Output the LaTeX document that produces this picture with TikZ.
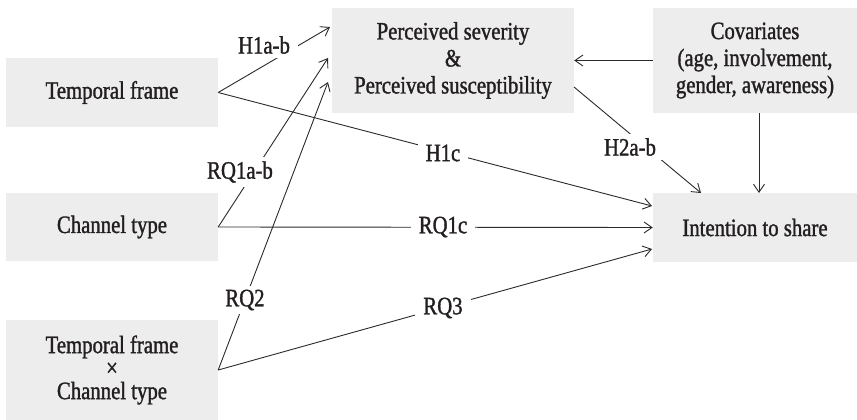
\documentclass[tikz,border=0pt]{standalone}
\usepackage{fontspec}
\setmainfont{Liberation Serif}[FakeStretch=0.83,FakeBold=1.3]
\usetikzlibrary{arrows.meta}
\definecolor{boxgray}{HTML}{EDEDED}
\definecolor{ink}{HTML}{231F20}
\definecolor{wire}{HTML}{2A2A2A}
\tikzset{
  box/.style={fill=boxgray, inner sep=0pt, align=center, text=ink,
    font=\fontsize{25}{27}\selectfont},
  lbl/.style={fill=white, inner xsep=8pt, inner ysep=4pt, text=ink,
    font=\fontsize{25}{27}\selectfont},
  conn/.style={draw=wire, line width=0.9pt,
    -{Straight Barb[length=8pt,width=11pt,line width=0.9pt]}},
}
\begin{document}
\begin{tikzpicture}[x=1pt,y=-1pt]
\useasboundingbox (0,0) rectangle (857,420);
% boxes
\node[box, minimum width=212pt, minimum height=69pt] (tf) at (112,92.5) {Temporal frame};
\node[box, minimum width=212pt, minimum height=68pt] (ct) at (112,227) {Channel type};
\node[box, minimum width=212pt, minimum height=100pt, font=\fontsize{25}{23}\selectfont] (tc) at (112,370) {Temporal frame\\×\\Channel type};
\node[box, minimum width=242pt, minimum height=105pt] (ps) at (453,60.5) {Perceived severity\\\&\\Perceived susceptibility};
\node[box, minimum width=204pt, minimum height=105pt] (cv) at (755,60.5) {Covariates\\(age, involvement,\\gender, awareness)};
\node[box, minimum width=204pt, minimum height=69pt] (it) at (755,227.5) {Intention to share};
% endpoints
\coordinate (ps1) at (330,27);
\coordinate (ps2) at (328,58);
\coordinate (ps3) at (328,82);
\coordinate (psout) at (574,87);
\coordinate (it1) at (652,206);
\coordinate (it3) at (652,249);
\coordinate (ittop) at (701,193);
\coordinate (cvbot) at (759,113);
\coordinate (ittop2) at (759,193);
% connectors
\draw[conn] (tf.east) -- (ps1);
\draw[conn] (ct.east) -- (ps2);
\draw[conn] (tc.east) -- (ps3);
\draw[conn] (tf.east) -- (it1);
\draw[conn] (ct.east) -- (it.west);
\draw[conn] (tc.east) -- (it3);
\draw[conn] (psout) -- (ittop);
\draw[conn] (cv.west) -- (ps.east);
\draw[conn] (cvbot) -- (ittop2);
% labels
\node[lbl] (l1) at (264,45) {H1a-b};
\node[lbl] (l2) at (240,172) {RQ1a-b};
\node[lbl] (l3) at (245,300) {RQ2};
\node[lbl] (l4) at (443,153) {H1c};
\node[lbl] (l5) at (443,227) {RQ1c};
\node[lbl] (l6) at (443,308) {RQ3};
\node[lbl] (l7) at (630,147) {H2a-b};
\end{tikzpicture}
\end{document}
